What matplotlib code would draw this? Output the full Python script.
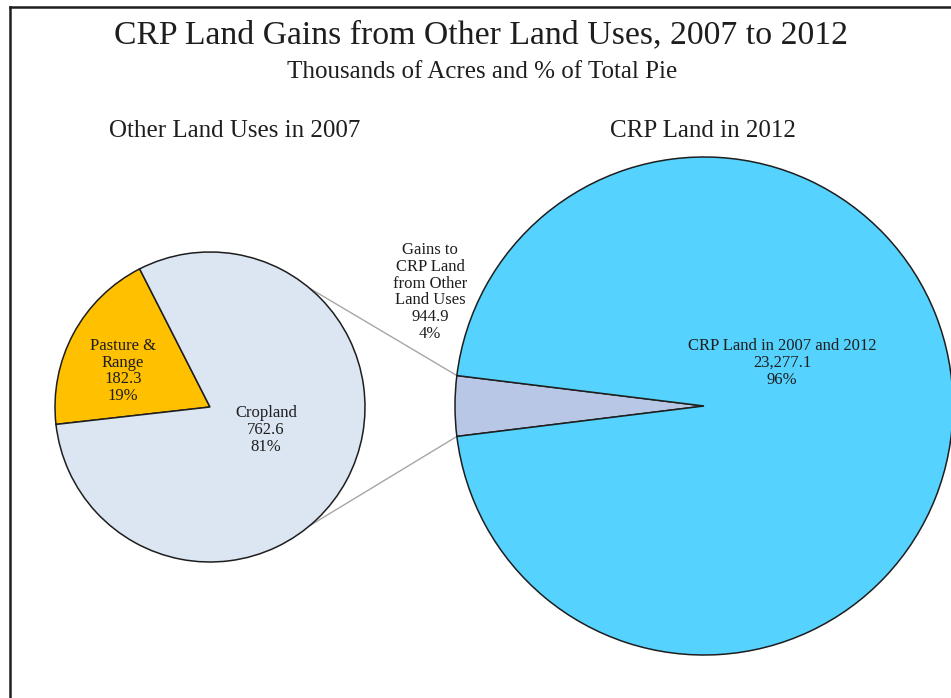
import numpy as np
import matplotlib
matplotlib.use("Agg")
import matplotlib.pyplot as plt
from matplotlib.lines import Line2D

plt.rcParams['font.family'] = ['Liberation Serif', 'DejaVu Serif']

# data (thousands of acres)
left_names = ["Pasture &\nRange", "Cropland"]
left_vals = [182.3, 762.6]
left_colors = ["#FFC000", "#DCE6F2"]

right_names = ["Gains to\nCRP Land\nfrom Other\nLand Uses", "CRP Land in 2007 and 2012"]
right_vals = [944.9, 23277.1]
right_colors = ["#B9C7E6", "#55D3FE"]

W, H = 951, 698
fig = plt.figure(figsize=(W / 100, H / 100), dpi=100)
ax = fig.add_axes([0, 0, 1, 1])

txt = "#1e1e1e"
edge = dict(edgecolor="#1e1e1e", linewidth=1.1)

# left pie
lc, lr = (210, H - 407), 155
lw_, _ = ax.pie(left_vals, colors=left_colors, startangle=117, counterclock=True,
                center=lc, radius=lr, wedgeprops=edge)

# right pie, gains wedge centred on the left side
rc, rr = (704, H - 406), 249
half = right_vals[0] / sum(right_vals) * 360 / 2
rw, _ = ax.pie(right_vals, colors=right_colors, startangle=180 - half, counterclock=True,
               center=rc, radius=rr, wedgeprops=edge)

ax.set_xlim(0, W)
ax.set_ylim(0, H)
ax.set_aspect("equal")
ax.axis("off")

# connector lines from left pie to gains wedge
for la, ra in [(50, rw[0].theta1), (-50, rw[0].theta2)]:
    x0 = lc[0] + lr * np.cos(np.radians(la))
    y0 = lc[1] + lr * np.sin(np.radians(la))
    x1 = rc[0] + rr * np.cos(np.radians(ra))
    y1 = rc[1] + rr * np.sin(np.radians(ra))
    ax.plot([x0, x1], [y0, y1], color="#A6A6A6", lw=1, zorder=0)

def lab(name, val, tot):
    return f"{name}\n{val:,.1f}\n{val / tot * 100:.0f}%"

tl, tr = sum(left_vals), sum(right_vals)
fs, ls = 12, 1.05
ax.text(123, H - 371, lab(left_names[0], left_vals[0], tl), ha="center", va="center",
        fontsize=fs, color=txt, linespacing=ls)
ax.text(266, H - 430, lab(left_names[1], left_vals[1], tl), ha="center", va="center",
        fontsize=fs, color=txt, linespacing=ls)
ax.text(430, H - 292, lab(right_names[0], right_vals[0], tr), ha="center", va="center",
        fontsize=fs, color=txt, linespacing=ls)
ax.text(782, H - 363, lab(right_names[1], right_vals[1], tr), ha="center", va="center",
        fontsize=fs, color=txt, linespacing=ls)

# titles
ax.text(481, H - 35, "CRP Land Gains from Other Land Uses, 2007 to 2012", ha="center",
        va="center", fontsize=24.3, color=txt)
ax.text(482, H - 72, "Thousands of Acres and % of Total Pie", ha="center", va="center",
        fontsize=18, color=txt)
ax.text(235, H - 131, "Other Land Uses in 2007", ha="center", va="center",
        fontsize=18, color=txt)
ax.text(703, H - 131, "CRP Land in 2012", ha="center", va="center",
        fontsize=18, color=txt)

# outer frame (left and top only visible)
fig.add_artist(Line2D([9.5 / W, 9.5 / W], [0, 1 - 6.5 / H], transform=fig.transFigure,
                      color="#1e1e1e", lw=1.8))
fig.add_artist(Line2D([9.5 / W, 1], [1 - 6.5 / H, 1 - 6.5 / H], transform=fig.transFigure,
                      color="#1e1e1e", lw=1.8))

fig.savefig("out.png", dpi=100)
